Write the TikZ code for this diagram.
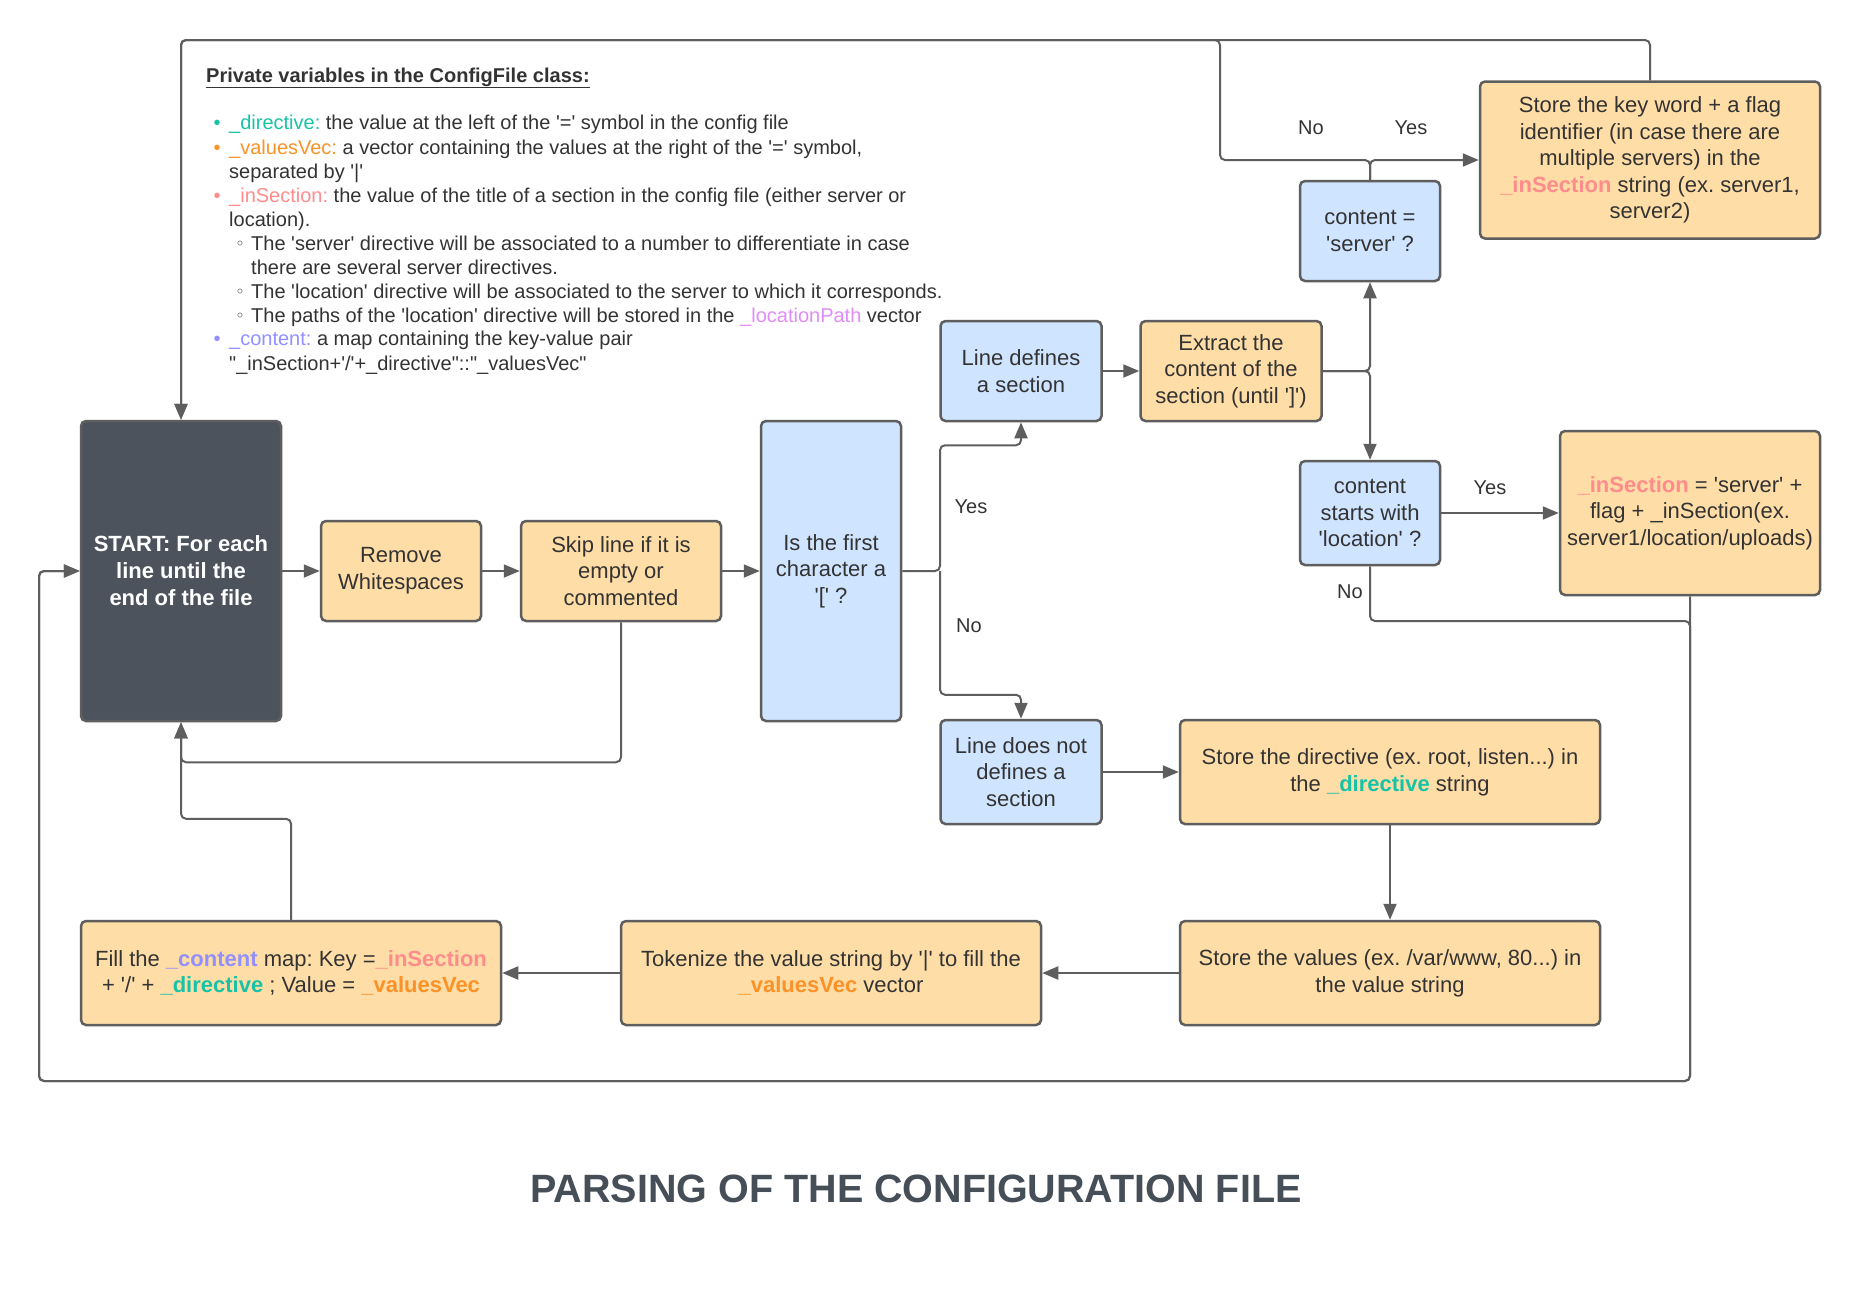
\documentclass[tikz,border=0pt]{standalone}
\usepackage{fontspec}
\setmainfont{Liberation Sans}[Ligatures=TeXOff]
\newfontfamily\djv{DejaVu Sans}
\usetikzlibrary{arrows.meta,calc}
\definecolor{lc}{HTML}{5E5E5E}
\definecolor{ofill}{HTML}{FFDDA6}
\definecolor{bfill}{HTML}{CFE4FF}
\definecolor{sfill}{HTML}{4C535D}
\definecolor{tc}{HTML}{333333}
\definecolor{cdir}{HTML}{17C3A6}
\definecolor{cval}{HTML}{FB9228}
\definecolor{csec}{HTML}{FF8C8C}
\definecolor{cpath}{HTML}{E28CF8}
\definecolor{ccon}{HTML}{938FFF}
\definecolor{ttl}{HTML}{464E57}
\tikzset{
  box/.style={rectangle, rounded corners=5pt, draw=lc, line width=2.5pt, align=center, inner sep=0pt, text=tc, font={\fontsize{22}{26.6}\selectfont}},
  obox/.style={box, fill=ofill},
  bbox/.style={box, fill=bfill},
  conn/.style={draw=lc, line width=2pt, rounded corners=5pt, -{Triangle[length=16pt,width=13pt]}},
  lab/.style={text=tc, inner sep=0pt, font={\fontsize{20}{24}\selectfont}},
  ann/.style={anchor=base west, inner sep=0pt, text=tc, font={\fontsize{20}{24}\selectfont}},
  bul/.style={anchor=base, inner sep=0pt, font={\fontsize{20}{24}\selectfont}},
}
\newcommand{\vdir}{\textcolor{cdir}{\textbf{\_directive}}}
\newcommand{\vval}{\textcolor{cval}{\textbf{\_valuesVec}}}
\newcommand{\vsec}{\textcolor{csec}{\textbf{\_inSection}}}
\newcommand{\vcon}{\textcolor{ccon}{\textbf{\_content}}}
\frenchspacing
\begin{document}
\begin{tikzpicture}[x=1pt,y=-1pt]
\useasboundingbox (0,0) rectangle (1862,1288);
\fill[white] (0,0) rectangle (1862,1288);

% ---------- annotation ----------
\node[ann, font={\fontsize{20}{24}\selectfont\bfseries}] (a0) at (206,82) {\underline{Private variables in the ConfigFile class:}};
\node[bul, text=cdir] (b1) at (217,129) {•};
\node[ann] (a1) at (229,129) {\textcolor{cdir}{\_directive:} the value at the left of the '=' symbol in the config file};
\node[bul, text=cval] (b2) at (217,154) {•};
\node[ann] (a2) at (229,154) {\textcolor{cval}{\_valuesVec:} a vector containing the values at the right of the '=' symbol,};
\node[ann] (a3) at (229,178) {separated by '|'};
\node[bul, text=csec] (b4) at (217,202) {•};
\node[ann] (a4) at (229,202) {\textcolor{csec}{\_inSection:} the value of the title of a section in the config file (either server or};
\node[ann] (a5) at (229,226) {location).};
\node[bul, text=tc, font={\fontsize{16}{24}\djv}] (b6) at (240,249) {◦};
\node[ann] (a6) at (251,250) {The 'server' directive will be associated to a number to differentiate in case};
\node[ann] (a7) at (251,274) {there are several server directives.};
\node[bul, text=tc, font={\fontsize{16}{24}\djv}] (b8) at (240,297) {◦};
\node[ann] (a8) at (251,298) {The 'location' directive will be associated to the server to which it corresponds.};
\node[bul, text=tc, font={\fontsize{16}{24}\djv}] (b9) at (240,321) {◦};
\node[ann] (a9) at (251,322) {The paths of the 'location' directive will be stored in the \textcolor{cpath}{\_locationPath} vector};
\node[bul, text=ccon] (b10) at (217,345) {•};
\node[ann] (a10) at (229,345) {\textcolor{ccon}{\_content:} a map containing the key-value pair};
\node[ann] (a11) at (229,370) {"\_inSection+'/'+\_directive"::"\_valuesVec"};

% ---------- boxes ----------
\node[box, fill=sfill, text=white, font={\fontsize{22}{27}\selectfont\bfseries}, minimum width=200pt, minimum height=300pt] (start) at (181,571) {START: For each\\line until the\\end of the file};
\node[obox, minimum width=160pt, minimum height=100pt] (remove) at (401,571) {Remove\\Whitespaces};
\node[obox, minimum width=200pt, minimum height=100pt] (skip) at (621,571) {Skip line if it is\\empty or\\commented};
\node[bbox, minimum width=140pt, minimum height=300pt] (isfirst) at (831,571) {Is the first\\character a\\'[' ?};
\node[bbox, minimum width=161pt, minimum height=100pt] (linedef) at (1021,371) {Line defines\\a section};
\node[obox, minimum width=181pt, minimum height=100pt] (extract) at (1231,371) {Extract the\\content of the\\section (until ']')};
\node[bbox, minimum width=140pt, minimum height=100pt] (cserver) at (1370,231) {content =\\'server' ?};
\node[obox, minimum width=340pt, minimum height=157pt] (storekey) at (1650,160) {Store the key word + a flag\\identifier (in case there are\\multiple servers) in the\\\vsec{} string (ex. server1,\\server2)};
\node[bbox, minimum width=140pt, minimum height=104pt] (cloc) at (1370,513) {content\\starts with\\'location' ?};
\node[obox, minimum width=260pt, minimum height=164pt] (insec) at (1690,513) {\vsec{} = 'server' +\\flag + \_inSection(ex.\\server1/location/uploads)};
\node[bbox, minimum width=161pt, minimum height=104pt] (linenot) at (1021,772) {Line does not\\defines a\\section};
\node[obox, minimum width=420pt, minimum height=104pt] (storedir) at (1390,772) {Store the directive (ex. root, listen...) in\\the \vdir{} string};
\node[obox, minimum width=420pt, minimum height=104pt] (storeval) at (1390,973) {Store the values (ex. /var/www, 80...) in\\the value string};
\node[obox, minimum width=420pt, minimum height=104pt] (tokenize) at (831,973) {Tokenize the value string by '|' to fill the\\\vval{} vector};
\node[obox, minimum width=420pt, minimum height=104pt] (fill) at (291,973) {Fill the \vcon{} map: Key =\vsec\\+ '/' + \vdir{} ; Value = \vval};

% ---------- helper coordinates ----------
\coordinate (split) at (940,571);
\coordinate (noA) at (1220,160);
\coordinate (noB) at (1220,40);
\coordinate (topR) at (1650,40);
\coordinate (jNo) at (1690,621);
\coordinate (loopBR) at (1690,1081);
\coordinate (loopBL) at (39,1081);

% ---------- connectors ----------
\draw[conn] (start.east) -- (remove.west);
\draw[conn] (remove.east) -- (skip.west);
\draw[conn] (skip.east) -- (isfirst.west);
\draw[conn] (skip.south) -- ++(0,140) -| (start.south);
\draw[conn] (fill.north) -- ++(0,-101) -| (start.south);
\draw[conn] (isfirst.east) -- (split) |- ($(linedef.south)+(0,23)$) -- (linedef.south);
\draw[conn] (split) |- ($(linenot.north)+(0,-24)$) -- (linenot.north);
\draw[conn] (linedef.east) -- (extract.west);
\draw[conn] (extract.east) -| (cserver.south);
\draw[conn] (extract.east) -| (cloc.north);
\draw[conn] (cserver.north) |- (storekey.west);
\draw[conn] (cserver.north) |- (noA) -- (noB) -| (start.north);
\draw[conn] (storekey.north) -- (topR) -| (start.north);
\draw[conn] (cloc.east) -- (insec.west);
\draw[conn] (cloc.south) |- (jNo) -- (loopBR) -- (loopBL) |- (start.west);
\draw[conn] (insec.south) -- (loopBR) -- (loopBL) |- (start.west);
\draw[conn] (linenot.east) -- (storedir.west);
\draw[conn] (storedir.south) -- (storeval.north);
\draw[conn] (storeval.west) -- (tokenize.east);
\draw[conn] (tokenize.west) -- (fill.east);

% ---------- labels ----------
\node[lab] (lyes1) at (971,507) {Yes};
\node[lab] (lno1) at (969,626) {No};
\node[lab] (lno2) at (1311,128) {No};
\node[lab] (lyes2) at (1411,128) {Yes};
\node[lab] (lyes3) at (1490,488) {Yes};
\node[lab] (lno3) at (1350,592) {No};

% ---------- title ----------
\node[text=ttl, inner sep=0pt, font={\fontsize{39.5}{45}\selectfont\bfseries}] (title) at (916,1189) {PARSING OF THE CONFIGURATION FILE};
\end{tikzpicture}
\end{document}
